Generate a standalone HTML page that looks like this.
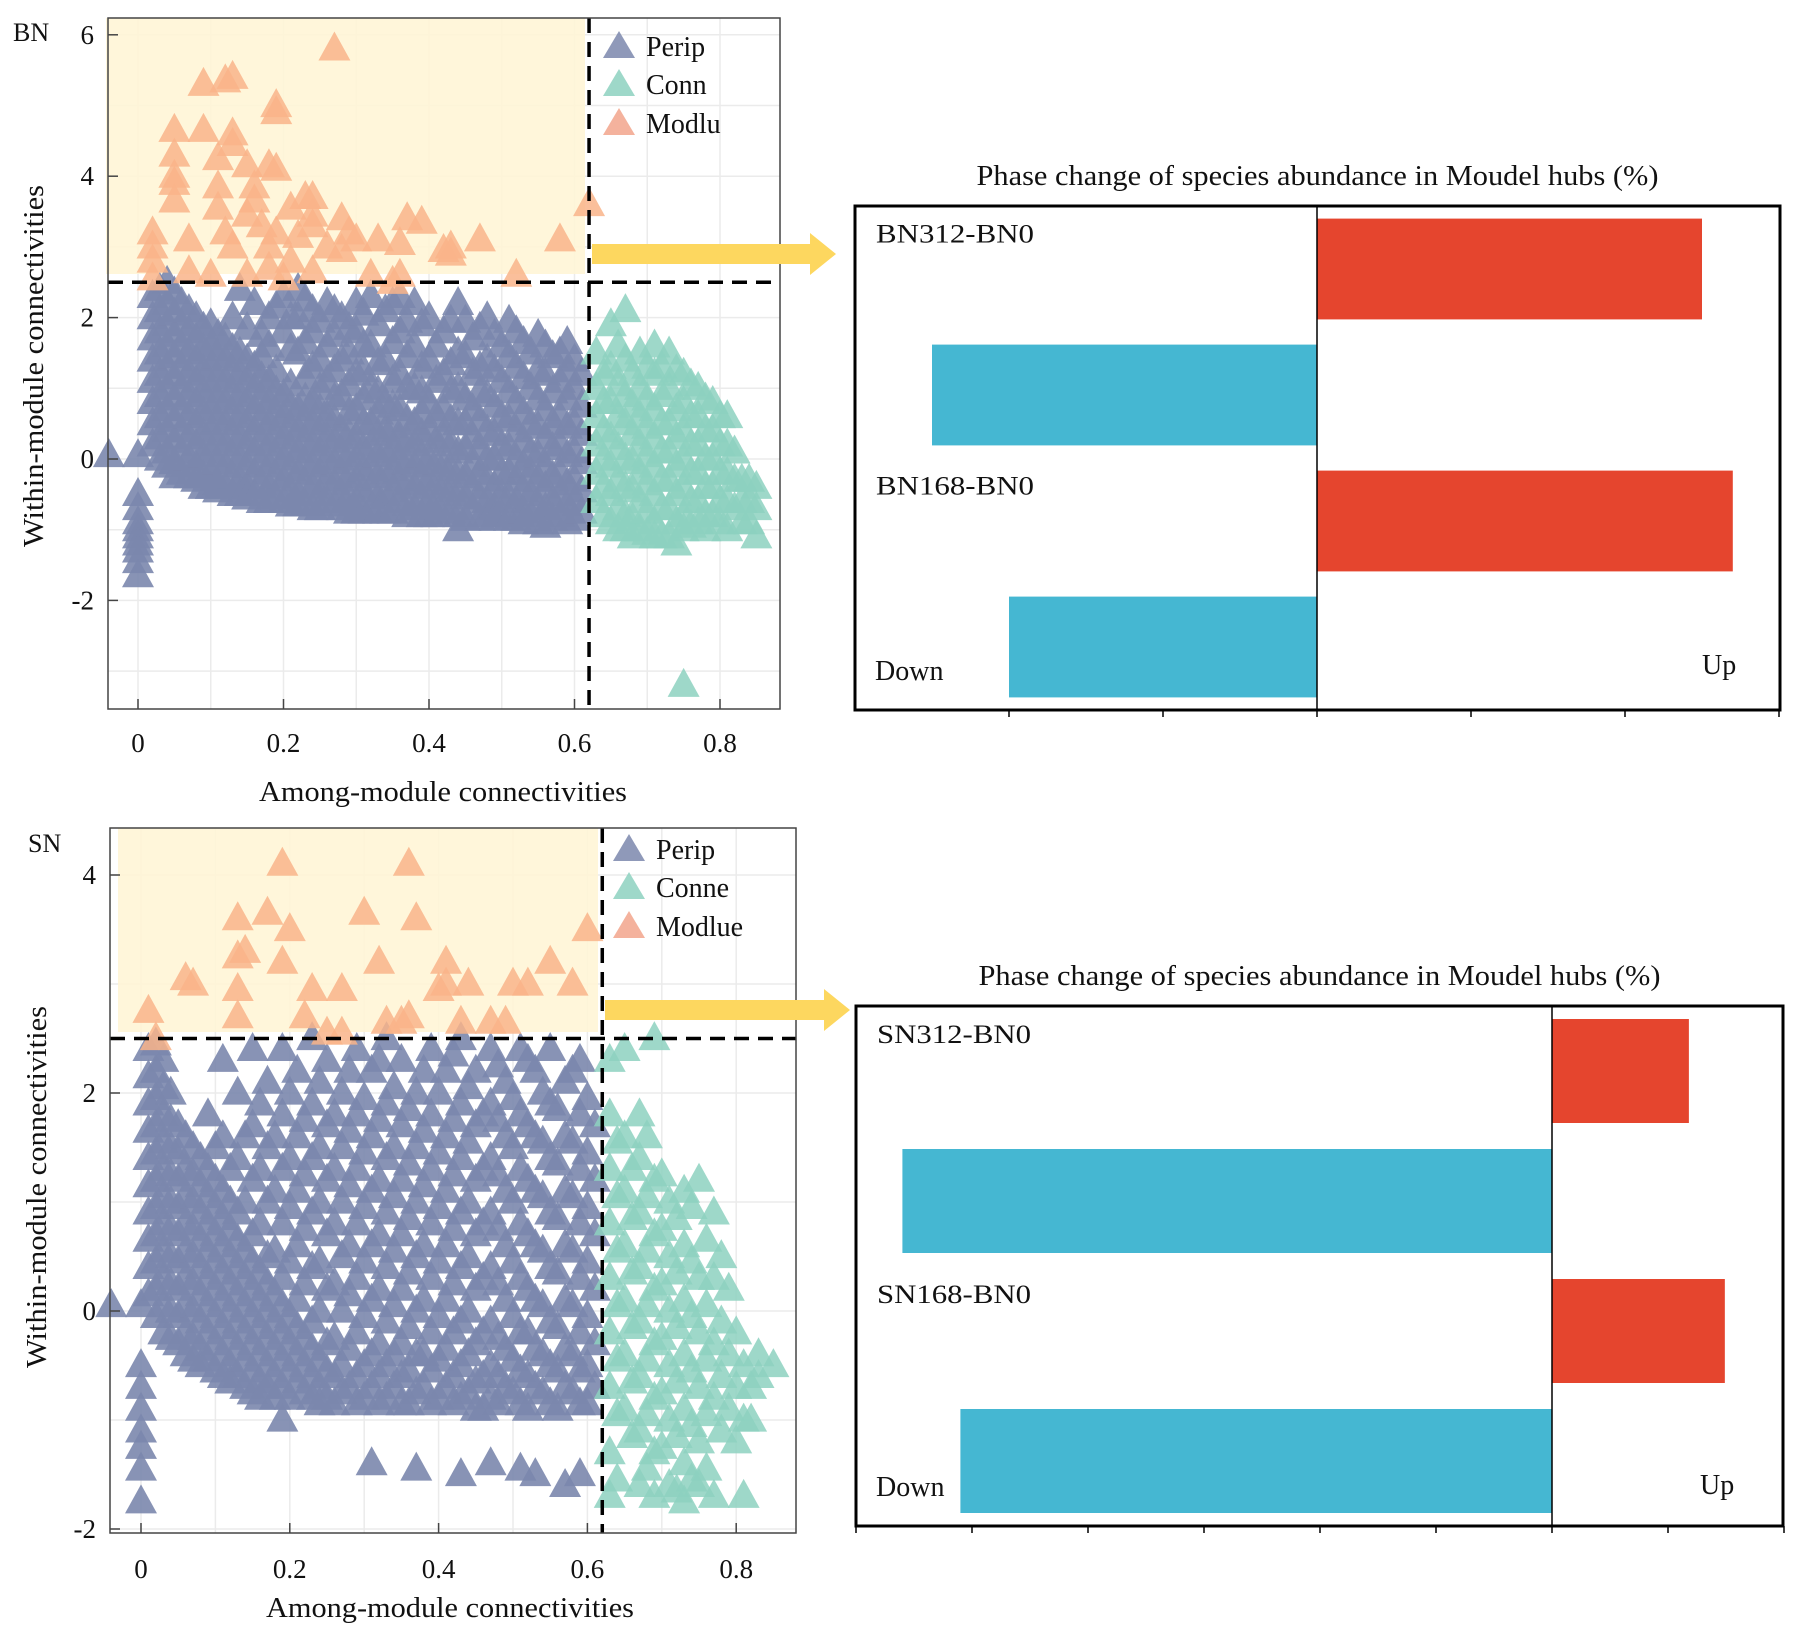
<!DOCTYPE html>
<html><head><meta charset="utf-8">
<style>html,body{margin:0;padding:0;background:#fff;}svg{display:block;font-family:"Liberation Serif",serif;}</style>
</head><body>
<svg id="fig" width="1807" height="1636" viewBox="0 0 1807 1636" xmlns="http://www.w3.org/2000/svg"></svg>
<script>
// ===== Data =====
const bnPeripCols = [
 [-0.04,[0.05]],
 [0.0,[0.05,-0.5,-0.7,-0.9,-1.0,-1.1,-1.2,-1.3,-1.45,-1.65]],
 [0.02,[2.3,2.0,1.7,1.4,1.1,0.8,0.5,0.2]],
 [0.04,[2.5,2.2,1.9,1.6,1.3,1.0,0.7,0.4,0.1,-0.1]],
 [0.06,[2.2,1.9,1.6,1.3,1.0,0.7,0.4,0.1,-0.2]],
 [0.08,[2.0,1.7,1.4,1.1,0.8,0.5,0.2,-0.1,-0.3]],
 [0.10,[1.9,1.6,1.3,1.0,0.7,0.4,0.1,-0.2,-0.4]],
 [0.12,[1.7,1.4,1.1,0.8,0.5,0.2,-0.1,-0.4]],
 [0.14,[2.4,1.5,1.2,0.9,0.6,0.3,0.0,-0.3,-0.5]],
 [0.16,[2.2,1.3,1.0,0.7,0.4,0.1,-0.2,-0.5]],
 [0.18,[2.0,1.6,1.1,0.8,0.5,0.2,-0.1,-0.4,-0.6]],
 [0.20,[2.3,1.8,0.9,0.6,0.3,0.0,-0.3,-0.6]],
 [0.22,[2.4,2.0,1.5,0.7,0.4,0.1,-0.2,-0.5,-0.65]],
 [0.24,[2.1,1.8,1.3,0.8,0.5,0.2,-0.1,-0.4,-0.7]],
 [0.26,[2.2,1.6,1.1,0.6,0.3,0.0,-0.3,-0.6]],
 [0.28,[2.0,1.4,0.9,0.4,0.1,-0.2,-0.5,-0.7]],
 [0.30,[2.2,1.8,1.2,0.7,0.3,0.0,-0.3,-0.6,-0.75]],
 [0.32,[2.3,1.6,1.0,0.5,0.2,-0.1,-0.4,-0.7]],
 [0.34,[2.1,1.4,0.8,0.4,0.1,-0.2,-0.5,-0.75]],
 [0.36,[2.3,1.8,1.2,0.7,0.3,0.0,-0.3,-0.6]],
 [0.38,[2.2,1.6,1.0,0.5,0.2,-0.1,-0.4,-0.7]],
 [0.40,[2.0,1.4,0.8,0.4,0.0,-0.3,-0.6,-0.8]],
 [0.42,[1.8,1.2,0.7,0.3,-0.1,-0.4,-0.7]],
 [0.44,[2.2,1.5,1.0,0.5,0.1,-0.2,-0.5,-0.8,-1.0]],
 [0.46,[1.7,1.2,0.7,0.3,-0.1,-0.4,-0.7]],
 [0.48,[2.0,1.4,0.9,0.4,0.0,-0.3,-0.6,-0.8]],
 [0.50,[1.6,1.1,0.6,0.2,-0.2,-0.5,-0.8]],
 [0.52,[1.8,1.3,0.8,0.4,0.0,-0.3,-0.6,-0.85]],
 [0.54,[1.5,1.0,0.5,0.1,-0.2,-0.5,-0.8]],
 [0.56,[1.6,1.2,0.7,0.3,-0.1,-0.4,-0.7,-0.95]],
 [0.58,[1.5,1.1,0.6,0.2,-0.2,-0.5,-0.8]],
 [0.60,[1.4,1.0,0.5,0.1,-0.3,-0.6,-0.85]]
];
const bnPeripCols2 = [
 [0.03,[2.4,2.1,1.8,1.5,1.2,0.9,0.6,0.3,0.0]],
 [0.05,[2.35,2.05,1.75,1.45,1.15,0.85,0.55,0.25,-0.05,-0.25]],
 [0.07,[2.1,1.8,1.5,1.2,0.9,0.6,0.3,0.0,-0.25]],
 [0.09,[1.85,1.55,1.25,0.95,0.65,0.35,0.05,-0.25,-0.4]],
 [0.11,[1.75,1.45,1.15,0.85,0.55,0.25,-0.05,-0.35,-0.45]],
 [0.13,[2.0,1.55,1.25,0.95,0.65,0.35,0.05,-0.25,-0.5]],
 [0.15,[1.85,1.4,1.1,0.8,0.5,0.2,-0.1,-0.4,-0.55]],
 [0.17,[1.75,1.45,1.15,0.85,0.55,0.25,-0.05,-0.35,-0.6]],
 [0.19,[2.15,1.25,0.95,0.65,0.35,0.05,-0.25,-0.55]],
 [0.21,[2.0,1.55,1.05,0.75,0.45,0.15,-0.15,-0.45,-0.65]],
 [0.23,[2.25,1.65,1.15,0.85,0.55,0.25,-0.05,-0.35,-0.65]],
 [0.25,[1.95,1.4,1.0,0.7,0.4,0.1,-0.2,-0.5,-0.7]],
 [0.27,[2.1,1.75,1.25,0.85,0.55,0.25,-0.05,-0.35,-0.65]],
 [0.29,[1.85,1.5,1.05,0.65,0.35,0.05,-0.25,-0.55,-0.75]],
 [0.31,[2.05,1.6,1.25,0.85,0.5,0.15,-0.15,-0.45,-0.75]],
 [0.33,[1.9,1.35,0.95,0.65,0.35,0.05,-0.25,-0.55,-0.75]],
 [0.35,[2.2,1.65,1.1,0.75,0.45,0.15,-0.15,-0.45,-0.75]],
 [0.37,[1.95,1.45,1.0,0.55,0.25,-0.05,-0.35,-0.65,-0.8]],
 [0.39,[1.9,1.3,0.95,0.65,0.35,0.05,-0.25,-0.55,-0.8]],
 [0.41,[1.6,1.1,0.6,0.25,-0.05,-0.35,-0.65,-0.8]],
 [0.43,[1.95,1.35,0.95,0.55,0.2,-0.15,-0.45,-0.75]],
 [0.45,[1.95,1.45,0.85,0.5,0.15,-0.25,-0.55,-0.85]],
 [0.47,[1.85,1.3,0.95,0.55,0.15,-0.2,-0.55,-0.85]],
 [0.49,[1.75,1.25,0.75,0.35,0.0,-0.4,-0.7,-0.85]],
 [0.51,[1.95,1.45,0.95,0.55,0.15,-0.2,-0.55,-0.85]],
 [0.53,[1.65,1.15,0.65,0.25,-0.1,-0.45,-0.75,-0.9]],
 [0.55,[1.75,1.25,0.85,0.45,0.05,-0.3,-0.65,-0.9]],
 [0.57,[1.45,0.95,0.5,0.15,-0.25,-0.6,-0.85]],
 [0.59,[1.65,1.25,0.85,0.45,0.05,-0.35,-0.65,-0.9]],
 [0.61,[1.2,0.75,0.35,-0.05,-0.45,-0.75]]
];
const bnConnCols = [
 [0.63,[1.5,1.0,0.6,0.2,-0.2,-0.6]],
 [0.65,[1.9,1.3,0.8,0.3,-0.1,-0.5,-0.9]],
 [0.67,[2.1,1.4,0.9,0.5,0.0,-0.4,-0.8,-1.0]],
 [0.69,[1.5,1.0,0.6,0.2,-0.2,-0.6,-1.0]],
 [0.71,[1.6,1.2,0.7,0.3,-0.1,-0.5,-0.9,-1.1]],
 [0.73,[1.5,1.0,0.5,0.1,-0.3,-0.7,-1.1]],
 [0.75,[1.2,0.8,0.4,0.0,-0.4,-0.8,-1.0,-3.2]],
 [0.77,[1.0,0.6,0.2,-0.2,-0.6,-0.9]],
 [0.79,[0.8,0.4,0.0,-0.4,-0.8]],
 [0.81,[0.6,0.2,-0.2,-0.6,-1.0]],
 [0.83,[-0.3,-0.6,-0.9]],
 [0.85,[-0.4,-0.7,-1.1]]
];
const bnConnCols2 = [
 [0.64,[1.2,0.8,0.4,0.0,-0.4,-0.8]],
 [0.66,[1.6,1.05,0.6,0.15,-0.3,-0.7,-1.0]],
 [0.68,[1.2,0.75,0.35,-0.05,-0.45,-0.85,-1.1]],
 [0.70,[1.3,0.85,0.45,0.05,-0.35,-0.75,-1.05]],
 [0.72,[1.3,0.9,0.5,0.1,-0.3,-0.7,-1.1]],
 [0.74,[1.25,0.7,0.3,-0.1,-0.5,-0.9,-1.2]],
 [0.76,[1.05,0.6,0.2,-0.2,-0.6,-0.95]],
 [0.78,[0.85,0.4,0.0,-0.4,-0.8,-1.0]],
 [0.80,[0.6,0.2,-0.2,-0.6,-0.9]],
 [0.82,[0.1,-0.3,-0.7]],
 [0.84,[-0.3,-0.6,-0.9]]
];
const bnModluPts = [[0.27,5.8],[0.09,5.3],[0.12,5.35],[0.13,5.4],[0.19,5.0],[0.19,4.9],[0.05,4.65],[0.09,4.65],[0.13,4.6],[0.13,4.45],[0.05,4.3],[0.05,4.0],[0.05,3.9],[0.05,3.65],[0.11,4.25],[0.15,4.15],[0.18,4.15],[0.19,4.1],[0.11,3.85],[0.16,3.85],[0.16,3.65],[0.11,3.55],[0.21,3.55],[0.23,3.7],[0.24,3.7],[0.24,3.45],[0.28,3.4],[0.15,3.45],[0.17,3.3],[0.02,3.2],[0.02,3.0],[0.02,2.8],[0.07,3.1],[0.12,3.2],[0.13,3.0],[0.18,3.0],[0.19,3.2],[0.22,3.15],[0.24,3.3],[0.26,3.0],[0.28,2.95],[0.30,3.1],[0.33,3.1],[0.37,3.4],[0.39,3.35],[0.36,3.05],[0.42,2.95],[0.43,2.9],[0.47,3.1],[0.58,3.1],[0.62,3.6],[0.07,2.65],[0.15,2.6],[0.18,2.7],[0.21,2.8],[0.24,2.65],[0.32,2.6],[0.36,2.6],[0.52,2.6],[0.02,2.55],[0.10,2.6],[0.20,2.55],[0.35,2.5],[0.43,3.0],[0.29,3.2]];

const snPeripCols = [
 [-0.04,[0.05]],
 [0.0,[0.05,-0.5,-0.7,-0.9,-1.1,-1.25,-1.45,-1.75]],
 [0.01,[2.4,2.15,1.9,1.65,1.4,1.15,0.9,0.65,0.4,0.15]],
 [0.03,[2.3,2.05,1.8,1.55,1.3,1.05,0.8,0.55,0.3,0.05,-0.2]],
 [0.05,[1.7,1.45,1.2,0.95,0.7,0.45,0.2,-0.05,-0.3]],
 [0.07,[1.5,1.25,1.0,0.75,0.5,0.25,0.0,-0.25,-0.45]],
 [0.09,[1.8,1.3,1.05,0.8,0.55,0.3,0.05,-0.2,-0.45]],
 [0.11,[2.3,1.6,1.1,0.85,0.6,0.35,0.1,-0.15,-0.4,-0.6]],
 [0.13,[2.0,1.4,0.9,0.65,0.4,0.15,-0.1,-0.35,-0.6]],
 [0.15,[2.4,1.7,1.2,0.7,0.45,0.2,-0.05,-0.3,-0.55,-0.75]],
 [0.17,[2.1,1.5,1.0,0.5,0.25,0.0,-0.25,-0.5,-0.7]],
 [0.19,[2.4,1.8,1.3,0.8,0.3,0.05,-0.2,-0.45,-0.7,-1.0]],
 [0.21,[2.2,1.6,1.1,0.6,0.1,-0.15,-0.4,-0.65]],
 [0.23,[2.5,1.9,1.4,0.9,0.4,-0.1,-0.35,-0.6,-0.8]],
 [0.25,[2.3,1.7,1.2,0.7,0.2,-0.3,-0.55,-0.8]],
 [0.27,[2.0,1.5,1.0,0.5,0.0,-0.5,-0.75]],
 [0.29,[2.4,1.8,1.3,0.8,0.3,-0.2,-0.6,-0.85]],
 [0.31,[2.2,1.6,1.1,0.6,0.1,-0.4,-0.7,-1.4]],
 [0.33,[2.5,1.9,1.4,0.9,0.4,-0.1,-0.5,-0.8]],
 [0.35,[2.3,1.7,1.2,0.7,0.2,-0.3,-0.6,-0.85]],
 [0.37,[2.0,1.5,1.0,0.5,0.0,-0.4,-0.75,-1.45]],
 [0.39,[2.4,1.8,1.3,0.8,0.3,-0.2,-0.55,-0.85]],
 [0.41,[2.2,1.6,1.1,0.6,0.1,-0.35,-0.7]],
 [0.43,[2.5,1.9,1.4,0.9,0.4,-0.1,-0.5,-0.8,-1.5]],
 [0.45,[2.2,1.7,1.2,0.7,0.2,-0.3,-0.65,-0.9]],
 [0.47,[2.4,1.9,1.4,0.9,0.4,-0.1,-0.5,-0.8,-1.4]],
 [0.49,[2.1,1.6,1.1,0.6,0.1,-0.35,-0.7]],
 [0.51,[2.4,1.8,1.3,0.8,0.3,-0.2,-0.55,-0.85,-1.45]],
 [0.53,[2.2,1.6,1.1,0.6,0.1,-0.35,-0.7,-1.5]],
 [0.55,[2.4,1.9,1.4,0.9,0.4,-0.1,-0.5,-0.85]],
 [0.57,[2.1,1.6,1.1,0.6,0.1,-0.35,-0.7,-1.6]],
 [0.59,[2.3,1.8,1.3,0.8,0.3,-0.2,-0.55,-0.85,-1.5]],
 [0.61,[1.7,1.2,0.7,0.2,-0.3,-0.7]]
];
const snPeripCols2 = [
 [0.02,[2.45,2.2,1.95,1.7,1.45,1.2,0.95,0.7,0.45,0.2,-0.05]],
 [0.04,[2.0,1.75,1.5,1.25,1.0,0.75,0.5,0.25,0.0,-0.25]],
 [0.06,[1.6,1.3,1.05,0.8,0.55,0.3,0.05,-0.2,-0.4]],
 [0.08,[1.4,1.15,0.9,0.65,0.4,0.15,-0.1,-0.35,-0.5]],
 [0.10,[1.5,1.2,0.95,0.7,0.45,0.2,-0.05,-0.3,-0.55]],
 [0.12,[1.3,1.0,0.75,0.5,0.25,0.0,-0.25,-0.5,-0.65]],
 [0.14,[1.6,1.0,0.55,0.3,0.05,-0.2,-0.45,-0.7]],
 [0.16,[1.9,1.3,0.8,0.35,0.1,-0.15,-0.4,-0.65,-0.8]],
 [0.18,[1.6,1.1,0.55,0.15,-0.1,-0.35,-0.6,-0.8]],
 [0.20,[2.0,1.4,0.95,0.45,-0.05,-0.3,-0.55,-0.8]],
 [0.22,[1.75,1.25,0.75,0.25,-0.25,-0.5,-0.75]],
 [0.24,[2.1,1.5,1.0,0.45,0.0,-0.45,-0.7,-0.85]],
 [0.26,[1.8,1.3,0.8,0.25,-0.25,-0.6,-0.85]],
 [0.28,[2.2,1.65,1.15,0.6,0.15,-0.35,-0.7]],
 [0.30,[1.95,1.45,0.95,0.45,-0.05,-0.5,-0.8]],
 [0.32,[2.3,1.75,1.2,0.7,0.2,-0.3,-0.6,-0.85]],
 [0.34,[2.05,1.5,1.05,0.55,0.05,-0.4,-0.7]],
 [0.36,[1.85,1.35,0.85,0.35,-0.15,-0.55,-0.85]],
 [0.38,[2.2,1.65,1.15,0.6,0.1,-0.4,-0.7]],
 [0.40,[2.0,1.45,0.95,0.45,-0.05,-0.45,-0.8]],
 [0.42,[2.35,1.75,1.25,0.75,0.25,-0.2,-0.6,-0.85]],
 [0.44,[2.05,1.55,1.0,0.5,0.0,-0.4,-0.75]],
 [0.46,[1.8,1.3,0.8,0.3,-0.2,-0.6,-0.9]],
 [0.48,[2.25,1.75,1.25,0.75,0.25,-0.25,-0.6,-0.85]],
 [0.50,[1.95,1.5,1.0,0.45,-0.05,-0.45,-0.75]],
 [0.52,[2.3,1.7,1.2,0.7,0.2,-0.2,-0.6,-0.9]],
 [0.54,[2.0,1.55,1.05,0.55,0.05,-0.4,-0.75]],
 [0.56,[1.85,1.35,0.85,0.35,-0.15,-0.55,-0.9]],
 [0.58,[2.2,1.55,1.05,0.55,0.05,-0.4,-0.75]],
 [0.60,[1.95,1.45,0.95,0.45,-0.05,-0.5,-0.85]]
];
const snConnCols = [
 [0.63,[2.3,1.8,1.3,0.8,0.3,-0.2,-0.7,-1.3,-1.7]],
 [0.65,[2.4,1.6,1.1,0.6,0.1,-0.4,-0.9]],
 [0.67,[1.8,1.4,0.9,0.4,-0.1,-0.6,-1.1,-1.6]],
 [0.69,[2.5,1.2,0.7,0.2,-0.3,-0.8,-1.3,-1.7]],
 [0.71,[1.0,0.5,0.0,-0.5,-1.0,-1.6]],
 [0.73,[1.1,0.6,0.1,-0.4,-0.9,-1.4,-1.75]],
 [0.75,[1.2,0.3,-0.2,-0.7,-1.2,-1.6]],
 [0.77,[0.9,0.3,-0.3,-0.8,-1.7]],
 [0.79,[0.2,-0.4,-0.9]],
 [0.81,[-0.5,-1.0,-1.7]],
 [0.83,[-0.4,-0.6]],
 [0.85,[-0.5]]
];
const snConnCols2 = [
 [0.64,[1.55,1.05,0.55,0.05,-0.45,-0.95,-1.55]],
 [0.66,[1.3,0.85,0.35,-0.15,-0.65,-1.15]],
 [0.68,[1.6,1.05,0.55,0.05,-0.45,-0.95,-1.45]],
 [0.70,[1.25,0.75,0.25,-0.25,-0.75,-1.25]],
 [0.72,[0.85,0.35,-0.15,-0.65,-1.15,-1.65]],
 [0.74,[0.95,0.45,-0.05,-0.55,-1.05,-1.55]],
 [0.76,[0.65,0.05,-0.45,-0.95,-1.45]],
 [0.78,[0.5,-0.1,-0.6,-1.1]],
 [0.80,[-0.2,-0.7,-1.2]],
 [0.82,[-0.7,-1.0]]
];
const snModluPts = [[0.19,4.1],[0.36,4.1],[0.13,3.6],[0.17,3.65],[0.2,3.5],[0.3,3.65],[0.37,3.6],[0.6,3.5],[0.06,3.05],[0.07,3.0],[0.13,3.25],[0.14,3.3],[0.19,3.2],[0.32,3.2],[0.41,3.2],[0.55,3.2],[0.13,2.95],[0.23,2.95],[0.27,2.95],[0.41,3.0],[0.44,3.0],[0.5,3.0],[0.52,3.0],[0.58,3.0],[0.4,2.95],[0.01,2.75],[0.13,2.7],[0.22,2.7],[0.27,2.55],[0.33,2.65],[0.36,2.7],[0.35,2.65],[0.43,2.65],[0.47,2.65],[0.49,2.65],[0.02,2.5],[0.25,2.55]];

const xTickLabels = ["0","0.2","0.4","0.6","0.8"];
const xTickVals = [0,0.2,0.4,0.6,0.8];
const bnYTickVals = [6,4,2,0,-2];
const snYTickVals = [4,2,0,-2];

const bnBarCats = ["BN312-BN0","BN168-BN0"];
const bnUpVals = [2.5, 2.7];
const bnDownVals = [-2.5, -2.0];
const snBarCats = ["SN312-BN0","SN168-BN0"];
const snUpVals = [1.18, 1.49];
const snDownVals = [-5.6, -5.1];

// ===== Drawing =====
const NS = "http://www.w3.org/2000/svg";
const svg = document.getElementById('fig');
function mk(tag, attrs, parent){ const e=document.createElementNS(NS,tag); for(const k in attrs) e.setAttribute(k,attrs[k]); (parent||svg).appendChild(e); return e; }
const COL = {perip:"#7b87ad", conn:"#8dd1bf", modlu:"#f9b48a", legModlu:"#f2a48c"};

function tri(g, cx, cy, fill, op){
  const w=16, h=29;
  const p = mk('polygon',{points:`${cx-w},${cy+h*0.4} ${cx+w},${cy+h*0.4} ${cx},${cy-h*0.6}`, fill:fill, 'fill-opacity':op}, g);
  
  
}

function scatter(cfg){
  const g = mk('g',{});
  
  
  const X = v => cfg.x0 + v*cfg.xs;
  const Y = v => cfg.y0 - v*cfg.ys;
  const L=cfg.box[0], T=cfg.box[1], R=cfg.box[2], B=cfg.box[3];
  mk('rect',{x:L,y:T,width:R-L,height:B-T,fill:'#fff'},g);
  const gg = mk('g',{stroke:'#ebebeb','stroke-width':1.5},g);
   
  for(let v=0; v<=0.85; v+=0.1){ mk('line',{x1:X(v),x2:X(v),y1:T,y2:B},gg); }
  for(let v=cfg.yMin; v<=cfg.yMax; v+=1){ mk('line',{x1:L,x2:R,y1:Y(v),y2:Y(v)},gg); }
  const hb = mk('rect',{x:cfg.yellow[0],y:cfg.yellow[1],width:cfg.yellow[2]-cfg.yellow[0],height:cfg.yellow[3]-cfg.yellow[1],fill:'#fff5d6','fill-opacity':0.9},g);
   
  const pg = mk('g',{},g);  
  cfg.perip.forEach(c=>c[1].forEach(y=>tri(pg,X(c[0]),Y(y),COL.perip,0.9)));
  const cg = mk('g',{},g);  
  cfg.conn.forEach(c=>c[1].forEach(y=>tri(cg,X(c[0]),Y(y),COL.conn,0.85)));
  const mg = mk('g',{},g);  
  cfg.modlu.forEach(p=>tri(mg,X(p[0]),Y(p[1]),COL.modlu,0.85));
  const hl = mk('line',{x1:L,x2:R,y1:Y(2.5),y2:Y(2.5),stroke:'#000','stroke-width':3.5,'stroke-dasharray':'15 9'},g);
   
  const vl = mk('line',{x1:X(0.62),x2:X(0.62),y1:T,y2:B,stroke:'#000','stroke-width':3.5,'stroke-dasharray':'15 9'},g);
   
  mk('rect',{x:L,y:T,width:R-L,height:B-T,fill:'none',stroke:'#444','stroke-width':1.5},g);
  xTickVals.forEach((v,i)=>{
    mk('line',{x1:X(v),x2:X(v),y1:B,y2:B-10,stroke:'#444','stroke-width':1.5},g);
    const t=mk('text',{x:X(v),y:cfg.xTickY,'font-size':27,'text-anchor':'middle',fill:'#111'},g);
    t.textContent=xTickLabels[i];
     
  });
  cfg.yTicks.forEach(v=>{
    mk('line',{x1:L,x2:L+10,y1:Y(v),y2:Y(v),stroke:'#444','stroke-width':1.5},g);
    const t=mk('text',{x:L-14,y:Y(v)+9,'font-size':27,'text-anchor':'end',fill:'#111'},g);
    t.textContent=String(v);
     
  });
  const xt=mk('text',{x:cfg.xTitle[0],y:cfg.xTitle[1],'font-size':28,'text-anchor':'middle',textLength:368,lengthAdjust:'spacingAndGlyphs',fill:'#111'},g);
  xt.textContent='Among-module connectivities';
   
  const yt=mk('text',{x:0,y:0,'font-size':28,'text-anchor':'middle',textLength:362,lengthAdjust:'spacingAndGlyphs',fill:'#111',transform:`translate(${cfg.yTitle[0]},${cfg.yTitle[1]}) rotate(-90)`},g);
  yt.textContent='Within-module connectivities';
   
  const pl=mk('text',{x:cfg.panel[0],y:cfg.panel[1],'font-size':26,fill:'#111'},g);
  pl.textContent=cfg.panelText;
   
  const lg=mk('g',{},g);  
  const lc=[COL.perip,COL.conn,COL.legModlu];
  cfg.legend.forEach((s,i)=>{
    const cy=cfg.legY[i];
    const e=mk('g',{},lg);  
    mk('polygon',{points:`${cfg.legX-16},${cy+12} ${cfg.legX+16},${cy+12} ${cfg.legX},${cy-15}`,fill:lc[i],'fill-opacity':0.85},e);
    const t=mk('text',{x:cfg.legX+27,y:cy+10,'font-size':28,fill:'#111'},e); t.textContent=s;
  });
}

scatter({name:'bn-scatter', x0:138, xs:727.5, y0:459, ys:70.7, box:[108,18,780,709], yMin:-3, yMax:6,
  yellow:[106,18,585,274], perip:bnPeripCols.concat(bnPeripCols2), conn:bnConnCols.concat(bnConnCols2), modlu:bnModluPts,
  xTickY:752, yTicks:bnYTickVals, xTitle:[443,801], yTitle:[43,366], panel:[13,41], panelText:'BN',
  legend:['Perip','Conn','Modlu'], legX:619, legY:[46,84,123]});
scatter({name:'sn-scatter', x0:141, xs:744, y0:1311, ys:109, box:[110,828,796,1533], yMin:-2, yMax:4,
  yellow:[118,828,598,1032], perip:snPeripCols.concat(snPeripCols2), conn:snConnCols.concat(snConnCols2), modlu:snModluPts,
  xTickY:1578, yTicks:snYTickVals, xTitle:[450,1617], yTitle:[46,1187], panel:[28,852], panelText:'SN',
  legend:['Perip','Conne','Modlue'], legX:629, legY:[849,887,926]});

function arrow(x1,x2,yc,name){
  const a=mk('polygon',{points:`${x1},${yc-10} ${x2-26},${yc-10} ${x2-26},${yc-21} ${x2},${yc} ${x2-26},${yc+21} ${x2-26},${yc+10} ${x1},${yc+10}`,fill:'#fdd75f'});
   
}
arrow(592,836,254,'bn-arrow');
arrow(605,850,1010,'sn-arrow');

function bars(cfg){
  const g=mk('g',{});  
  const X=v=>cfg.zero+v*cfg.unit;
  const L=cfg.box[0],T=cfg.box[1],R=cfg.box[2],B=cfg.box[3];
  const tt=mk('text',{x:(L+R)/2,y:cfg.titleY,'font-size':29,'text-anchor':'middle',textLength:682,lengthAdjust:'spacingAndGlyphs',fill:'#111'},g);
  tt.textContent='Phase change of species abundance in Moudel hubs (%)';
   
  const slot=(B-T)/4, bh=slot*0.8, pad=(slot-bh)/2;
  cfg.cats.forEach((c,i)=>{
    const yu=T+slot*(2*i)+pad, yd=T+slot*(2*i+1)+pad;
    const r=mk('rect',{x:X(0),y:yu,width:X(cfg.up[i])-X(0),height:bh,fill:'#e5452e'},g);
     
    const b=mk('rect',{x:X(cfg.down[i]),y:yd,width:X(0)-X(cfg.down[i]),height:bh,fill:'#45b7d2'},g);
     
    const t=mk('text',{x:L+21,y:yu+24,'font-size':26,textLength:cfg.labW,lengthAdjust:'spacingAndGlyphs',fill:'#111'},g);
    t.textContent=c;  
  });
  mk('line',{x1:X(0),x2:X(0),y1:T,y2:B,stroke:'#000','stroke-width':1.5},g);
  mk('rect',{x:L,y:T,width:R-L,height:B-T,fill:'none',stroke:'#000','stroke-width':3},g);
  for(let v=cfg.tmin; v<=cfg.tmax; v++){ mk('line',{x1:X(v),x2:X(v),y1:B,y2:B+7,stroke:'#000','stroke-width':1.5},g); }
  const d=mk('text',{x:L+20,y:B-30,'font-size':28,fill:'#111'},g); d.textContent='Down';
   
  const u=mk('text',{x:cfg.upX,y:cfg.upY,'font-size':28,fill:'#111'},g); u.textContent='Up';
   
}
bars({name:'bn-bar-chart', box:[855,206,1780,710], zero:1317, unit:154, cats:bnBarCats, up:bnUpVals, down:bnDownVals,
  titleY:185, tmin:-2, tmax:3, labW:158, upX:1702, upY:674});
bars({name:'sn-bar-chart', box:[856,1006,1783,1526], zero:1552, unit:116, cats:snBarCats, up:snUpVals, down:snDownVals,
  titleY:985, tmin:-6, tmax:2, labW:154, upX:1700, upY:1494});
</script>
</body></html>
